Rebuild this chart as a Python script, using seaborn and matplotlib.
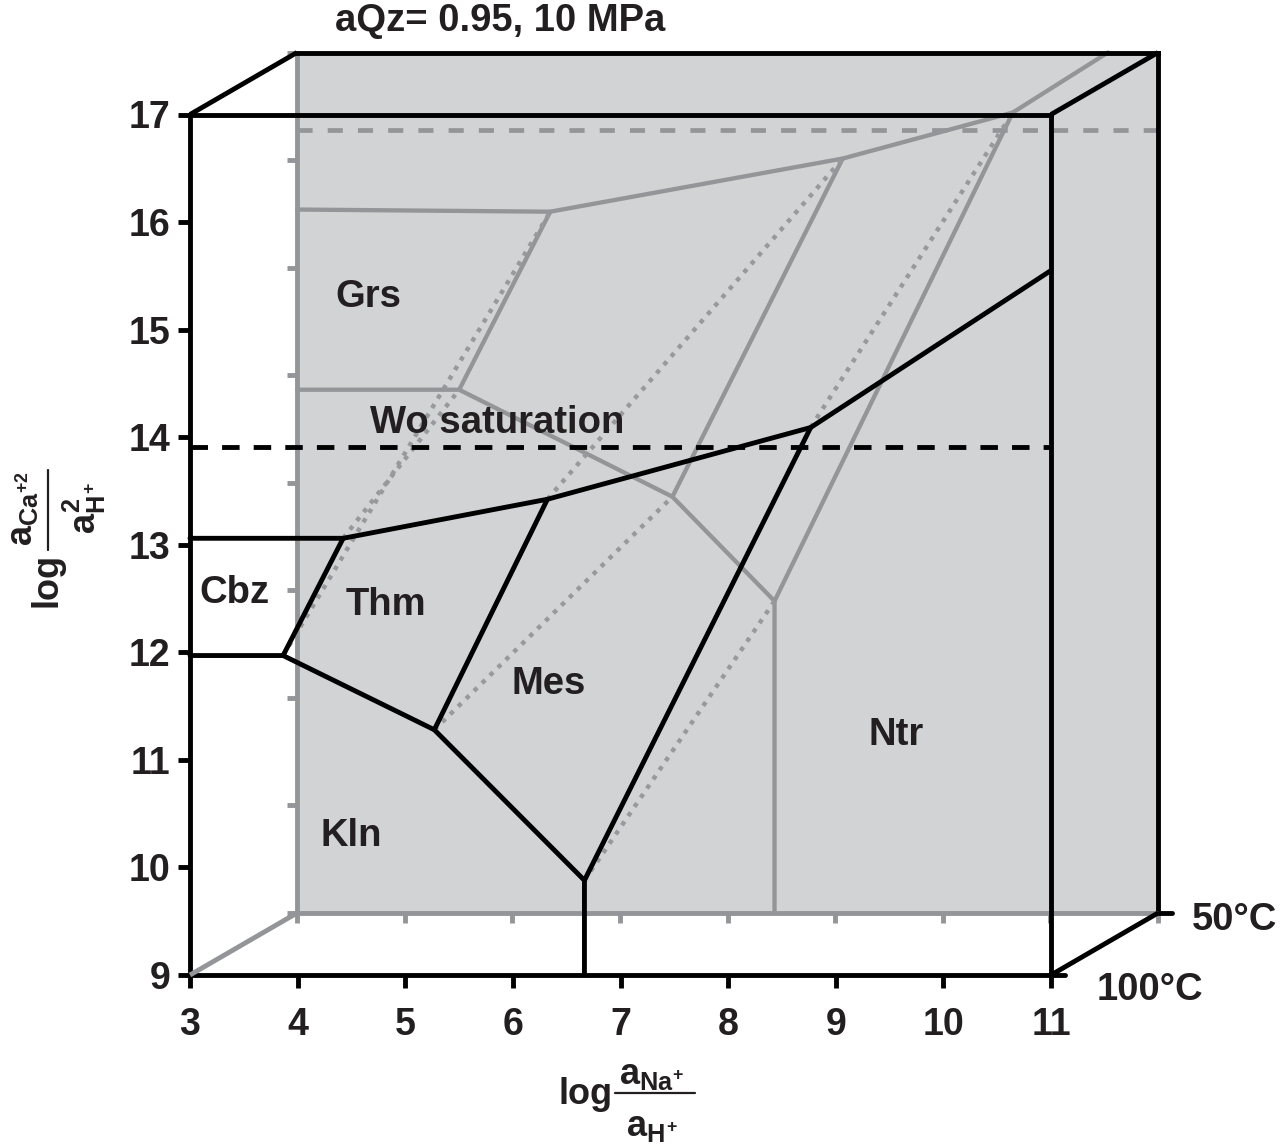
import numpy as np
import matplotlib
matplotlib.use("Agg")
import matplotlib.pyplot as plt
import seaborn as sns
from matplotlib.lines import Line2D

sns.set_theme(style="ticks")
plt.rcParams["font.family"] = ["Liberation Sans", "DejaVu Sans"]
plt.rcParams["font.weight"] = "bold"
plt.rcParams["mathtext.fontset"] = "custom"
plt.rcParams["mathtext.rm"] = "Liberation Sans:bold"
plt.rcParams["mathtext.it"] = "Liberation Sans:bold"
plt.rcParams["mathtext.bf"] = "Liberation Sans:bold"
plt.rcParams["mathtext.sf"] = "Liberation Sans:bold"
plt.rcParams["text.color"] = "#231f20"

# ---------------- data ----------------
xticks = [3, 4, 5, 6, 7, 8, 9, 10, 11]
yticks = [9, 10, 11, 12, 13, 14, 15, 16, 17]

# 100 °C diagram (front panel)
hot_wo = 13.91
hot_upper_x = [3.0, 4.423, 6.321, 8.767, 11.0]
hot_upper_y = [13.06, 13.06, 13.423, 14.09, 15.55]
hot_cbz_x = [3.0, 3.865, 4.423]
hot_cbz_y = [11.97, 11.97, 13.06]
hot_kln_x = [3.865, 5.270, 6.665, 6.665]
hot_kln_y = [11.97, 11.28, 9.88, 9.0]
hot_thm_mes_x = [5.270, 6.321]
hot_thm_mes_y = [11.28, 13.423]
hot_mes_ntr_x = [6.665, 8.767]
hot_mes_ntr_y = [9.88, 14.09]

# 50 °C diagram (back panel)
cold_wo = 16.28
cold_grs_x = [3.0, 5.353, 8.070, 9.651, 10.535]
cold_grs_y = [15.54, 15.52, 16.014, 16.442, 17.0]
cold_left_x = [3.0, 4.507, 5.353]
cold_left_y = [13.865, 13.865, 15.52]
cold_mid_x = [4.507, 6.488, 7.437, 7.437]
cold_mid_y = [13.865, 12.87, 11.90, 9.0]
cold_a_x = [6.488, 8.070]
cold_a_y = [12.87, 16.014]
cold_b_x = [7.437, 9.651]
cold_b_y = [11.90, 16.442]

# invariant points linked between the two temperatures
hot_pts_x = [3.865, 4.423, 6.321, 5.270, 6.665, 8.767]
hot_pts_y = [11.97, 13.06, 13.423, 11.28, 9.88, 14.09]
cold_pts_x = [5.353, 4.507, 8.070, 6.488, 7.437, 9.651]
cold_pts_y = [15.52, 13.865, 16.014, 12.87, 11.90, 16.442]

labels = ["Grs", "Wo saturation", "Cbz", "Thm", "Mes", "Kln", "Ntr"]
label_x = [4.656, 5.856, 3.409, 4.823, 6.330, 4.498, 9.558]
label_y = [15.212, 14.037, 12.456, 12.344, 11.616, 10.195, 11.135]

title = "aQz= 0.95, 10 MPa"
temp_labels = ["50°C", "100°C"]
xlab_num, xlab_den = r"$a_{Na^{+}}$", r"$a_{H^{+}}$"
ylab_num, ylab_den = r"$a_{Ca^{+2}}$", r"$a^{2}_{H^{+}}$"

# ---------------- style ----------------
BLACK = "#000000"
GRAY = "#939598"
DOT = "#97999c"
FILL = "#d1d3d4"
LW = 3.5
GLW = 3.1
FS = 27.5

W, H = 1288, 1147
fig = plt.figure(figsize=(W / 100, H / 100), dpi=100)
fig.patch.set_facecolor("white")

back = fig.add_axes([297 / W, (H - 913) / H, 861 / W, 860.5 / H], zorder=0)
ax = fig.add_axes([190 / W, (H - 975) / H, 861 / W, 860.5 / H], zorder=1)

for a in (back, ax):
    a.set_xlim(3, 11)
    a.set_ylim(9, 17)
    a.set_xticks(xticks)
    a.set_yticks(yticks)

# back panel (50 °C)
back.set_facecolor(FILL)
for side in ("left", "bottom"):
    back.spines[side].set_color(GRAY)
for side in ("top", "right"):
    back.spines[side].set_color(BLACK)
for sp in back.spines.values():
    sp.set_linewidth(LW)
back.tick_params(axis="both", direction="out", length=7.5, width=LW, color=GRAY,
                 labelleft=False, labelbottom=False, left=True, bottom=True)
back.xaxis.get_major_ticks()[-1].tick1line.set_color(BLACK)
back.yaxis.get_major_ticks()[-1].tick1line.set_color(BLACK)


def line(axis, xs, ys, color, lw=LW, z=2):
    sns.lineplot(x=xs, y=ys, ax=axis, sort=False, estimator=None, color=color,
                 linewidth=lw, legend=False, clip_on=False, zorder=z)
    return axis.lines[-1]


ln = line(back, [3, 11], [cold_wo, cold_wo], GRAY, lw=3.4)
ln.set_linestyle((0, (3.2, 3.2)))
ln.set_dash_capstyle("butt")
for xs, ys in [(cold_grs_x, cold_grs_y), (cold_left_x, cold_left_y),
               (cold_mid_x, cold_mid_y), (cold_a_x, cold_a_y), (cold_b_x, cold_b_y)]:
    line(back, xs, ys, GRAY, lw=GLW)

# front panel (100 °C)
ax.set_facecolor("none")
for sp in ax.spines.values():
    sp.set_linewidth(LW)
    sp.set_color(BLACK)
    sp.set_zorder(6)
ax.tick_params(axis="both", direction="out", length=9, width=LW, color=BLACK,
               labelsize=27, labelcolor="#231f20", left=True, bottom=True)
ax.tick_params(axis="y", pad=5)
ax.tick_params(axis="x", pad=14)

# dotted links between matching invariant points
to_front = back.transData + ax.transData.inverted()
cp = to_front.transform(np.column_stack([cold_pts_x, cold_pts_y]))
for i in range(len(hot_pts_x)):
    ln = line(ax, [hot_pts_x[i], cp[i, 0]], [hot_pts_y[i], cp[i, 1]], DOT, lw=3.2, z=2)
    ln.set_linestyle((0, (1, 1.5)))
    ln.set_dash_capstyle("butt")

ln = line(ax, [3, 11], [hot_wo, hot_wo], BLACK, lw=LW, z=3)
ln.set_linestyle((0, (3.6, 2.9)))
ln.set_dash_capstyle("butt")
for xs, ys in [(hot_upper_x, hot_upper_y), (hot_cbz_x, hot_cbz_y), (hot_kln_x, hot_kln_y),
               (hot_thm_mes_x, hot_thm_mes_y), (hot_mes_ntr_x, hot_mes_ntr_y)]:
    line(ax, xs, ys, BLACK, lw=LW, z=4)

for t, x, y in zip(labels, label_x, label_y):
    ax.text(x, y, t, ha="center", va="baseline", fontsize=FS, fontweight="bold",
            color="#231f20", zorder=7)

ax.set_xlabel("")
ax.set_ylabel("")
back.set_xlabel("")
back.set_ylabel("")

# connecting edges of the box
fp = ax.get_position()
bp = back.get_position()
edges = [((fp.x0, fp.y1), (bp.x0, bp.y1), BLACK),
         ((fp.x1, fp.y1), (bp.x1, bp.y1), BLACK),
         ((fp.x1, fp.y0), (bp.x1, bp.y0), BLACK),
         ((fp.x0, fp.y0), (bp.x0, bp.y0), GRAY)]
for (x0, y0), (x1, y1), c in edges:
    fig.add_artist(Line2D([x0, x1], [y0, y1], transform=fig.transFigure, color=c,
                          linewidth=LW, solid_capstyle="butt", zorder=5))
# small corner stubs
fig.add_artist(Line2D([bp.x1, bp.x1 + 14 / W], [bp.y0, bp.y0], transform=fig.transFigure,
                      color=BLACK, linewidth=LW, zorder=5))
fig.add_artist(Line2D([fp.x1, fp.x1 + 14 / W], [fp.y0, fp.y0], transform=fig.transFigure,
                      color=BLACK, linewidth=LW, zorder=5))

# titles and labels
fig.text(500 / W, 1 - 31 / H, title, ha="center", va="baseline", fontsize=27.5,
         fontweight="bold")
fig.text(1192 / W, 1 - 930 / H, temp_labels[0], ha="left", va="baseline", fontsize=FS,
         fontweight="bold")
fig.text(1097 / W, 1 - 1000 / H, temp_labels[1], ha="left", va="baseline", fontsize=FS,
         fontweight="bold")

# x axis label: log (a_Na+ / a_H+)
fig.text(586 / W, 1 - 1095 / H, "log", ha="center", va="center", fontsize=26,
         fontweight="bold")
fig.add_artist(Line2D([615 / W, 695 / W], [1 - 1093 / H, 1 - 1093 / H],
                      transform=fig.transFigure, color="#231f20", linewidth=1.6))
fig.text(652 / W, 1 - 1074 / H, xlab_num, ha="center", va="center", fontsize=26)
fig.text(652 / W, 1 - 1126 / H, xlab_den, ha="center", va="center", fontsize=26)

# y axis label: log (a_Ca+2 / a_H+^2), rotated
fig.text(47 / W, 1 - 580 / H, "log", ha="center", va="center", fontsize=26,
         fontweight="bold", rotation=90)
fig.add_artist(Line2D([48 / W, 48 / W], [1 - 550 / H, 1 - 470 / H],
                      transform=fig.transFigure, color="#231f20", linewidth=1.6))
fig.text(23 / W, 1 - 508 / H, ylab_num, ha="center", va="center", fontsize=26,
         rotation=90)
fig.text(84 / W, 1 - 508 / H, ylab_den, ha="center", va="center", fontsize=26,
         rotation=90)

fig.savefig("out.png", dpi=100, facecolor="white")
